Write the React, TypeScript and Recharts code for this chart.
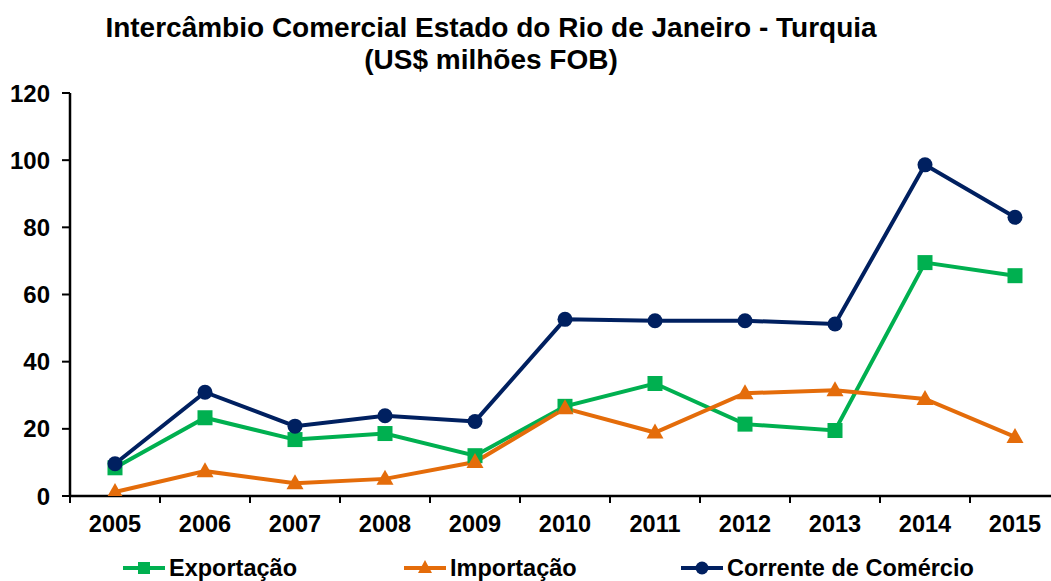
import { CartesianGrid, Line, LineChart, XAxis, YAxis } from 'recharts'

const years = ['2005', '2006', '2007', '2008', '2009', '2010', '2011', '2012', '2013', '2014', '2015']
const exportacao = [8.4, 23.3, 16.8, 18.6, 12.0, 26.7, 33.5, 21.4, 19.5, 69.5, 65.6]
const importacao = [1.2, 7.4, 3.8, 5.1, 10.1, 26.1, 18.9, 30.6, 31.5, 28.9, 17.6]
const corrente = [9.6, 30.9, 20.8, 23.9, 22.2, 52.6, 52.2, 52.2, 51.2, 98.6, 83.0]
const yTicks = [0, 20, 40, 60, 80, 100, 120]

const data = years.map((year, i) => ({
  year,
  exportacao: exportacao[i],
  importacao: importacao[i],
  corrente: corrente[i],
}))

const FONT = '"Liberation Sans", Arial, sans-serif'
const GREEN = '#00B050'
const ORANGE = '#E46C0A'
const NAVY = '#002060'

const CHART_W = 1070
const CHART_H = 581
const MARGIN = { top: 93, right: 10, bottom: 0, left: 0 }
const Y_W = 70
const BAND = (CHART_W - MARGIN.left - MARGIN.right - Y_W) / years.length

function SquareDot({ cx, cy }: any) {
  if (cx == null || cy == null) return null
  const s = 15
  return <rect x={cx - s / 2} y={cy - s / 2} width={s} height={s} fill={GREEN} />
}

function TriangleDot({ cx, cy }: any) {
  if (cx == null || cy == null) return null
  const s = 17
  const h = 15
  return (
    <path
      d={`M${cx},${cy - h * 0.6} L${cx + s / 2},${cy + h * 0.4} L${cx - s / 2},${cy + h * 0.4} Z`}
      fill={ORANGE}
    />
  )
}

function CircleDot({ cx, cy }: any) {
  if (cx == null || cy == null) return null
  return <circle cx={cx} cy={cy} r={7.5} fill={NAVY} />
}

function YearTick({ x, y, payload, index }: any) {
  const left = x - BAND / 2
  return (
    <g>
      <line x1={left} y1={y - 9} x2={left} y2={y - 1} stroke="#000" strokeWidth={2} />
      {index === years.length - 1 ? (
        <line x1={x + BAND / 2} y1={y - 9} x2={x + BAND / 2} y2={y - 1} stroke="#000" strokeWidth={2} />
      ) : null}
      <text x={x} y={y + 28} textAnchor="middle" fontFamily={FONT} fontWeight="bold" fontSize={23.5} fill="#000">
        {payload.value}
      </text>
    </g>
  )
}

const legendItems = [
  { name: 'Exportação', color: GREEN, left: 123, marker: 'square' },
  { name: 'Importação', color: ORANGE, left: 404, marker: 'triangle' },
  { name: 'Corrente de Comércio', color: NAVY, left: 681, marker: 'circle' },
]

function LegendMarker({ color, marker }: { color: string; marker: string }) {
  return (
    <svg width={42} height={20} style={{ display: 'block' }}>
      <line x1={0} y1={10} x2={42} y2={10} stroke={color} strokeWidth={4} />
      {marker === 'square' ? <rect x={15} y={4} width={12} height={12} fill={color} /> : null}
      {marker === 'triangle' ? <path d="M21,2 L28,15 L14,15 Z" fill={color} /> : null}
      {marker === 'circle' ? <circle cx={21} cy={10} r={6.5} fill={color} /> : null}
    </svg>
  )
}

export default function App() {
  return (
    <div
      style={{
        position: 'absolute',
        left: 0,
        top: 0,
        width: 1051,
        height: 581,
        overflow: 'hidden',
        background: '#fff',
        fontFamily: FONT,
      }}
    >
      <div
        style={{
          position: 'absolute',
          left: 0,
          width: 982,
          top: 12,
          textAlign: 'center',
          fontWeight: 'bold',
          fontSize: 28,
          lineHeight: '32px',
          color: '#000',
        }}
      >
        <div>Intercâmbio Comercial Estado do Rio de Janeiro - Turquia</div>
        <div>(US$ milhões FOB)</div>
      </div>

      <div style={{ position: 'absolute', left: 0, top: 0 }}>
        <LineChart width={CHART_W} height={CHART_H} data={data} margin={MARGIN}>
          <CartesianGrid stroke="none" />
          <XAxis
            dataKey="year"
            scale="band"
            height={85}
            axisLine={{ stroke: '#000', strokeWidth: 2.5 }}
            tickLine={false}
            tick={<YearTick />}
            interval={0}
          />
          <YAxis
            domain={[0, 120]}
            ticks={yTicks}
            width={Y_W}
            tickSize={8}
            tickMargin={12}
            axisLine={{ stroke: '#000', strokeWidth: 2.5 }}
            tickLine={{ stroke: '#000', strokeWidth: 2 }}
            tick={{ fill: '#000', fontSize: 24, fontWeight: 'bold', fontFamily: FONT }}
            allowDataOverflow
          />
          <Line
            type="linear"
            dataKey="exportacao"
            stroke={GREEN}
            strokeWidth={4}
            dot={<SquareDot />}
            activeDot={false}
            isAnimationActive={false}
          />
          <Line
            type="linear"
            dataKey="importacao"
            stroke={ORANGE}
            strokeWidth={4}
            dot={<TriangleDot />}
            activeDot={false}
            isAnimationActive={false}
          />
          <Line
            type="linear"
            dataKey="corrente"
            stroke={NAVY}
            strokeWidth={4}
            dot={<CircleDot />}
            activeDot={false}
            isAnimationActive={false}
          />
        </LineChart>
      </div>

      {legendItems.map((item) => (
        <div
          key={item.name}
          style={{
            position: 'absolute',
            left: item.left,
            top: 557,
            display: 'flex',
            alignItems: 'center',
            gap: 4,
            fontWeight: 'bold',
            fontSize: 23.5,
            lineHeight: '22px',
            color: '#000',
          }}
        >
          <LegendMarker color={item.color} marker={item.marker} />
          <span>{item.name}</span>
        </div>
      ))}
    </div>
  )
}
